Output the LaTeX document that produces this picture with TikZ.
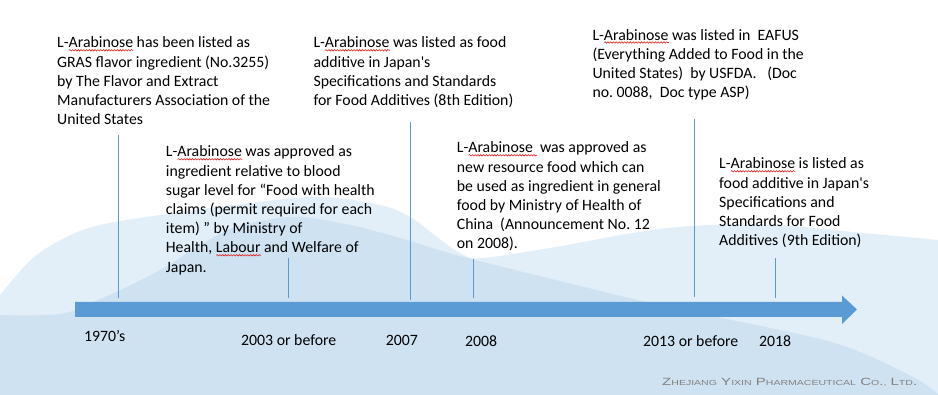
\documentclass[tikz,border=0pt]{standalone}
\usepackage{fontspec}
\setmainfont{Carlito}
\newfontfamily\footfont{Liberation Sans}
\usetikzlibrary{decorations.pathmorphing}
\definecolor{lightwave}{HTML}{E3EFF8}
\definecolor{darkwave}{HTML}{CFE2F2}
\definecolor{tlblue}{HTML}{5B9BD5}
\definecolor{spellred}{HTML}{E0201C}
\definecolor{footgray}{HTML}{808080}
\frenchspacing
\newdimen\spellwd
\newcommand\spell[1]{\leavevmode\setbox0\hbox{#1}\spellwd=\wd0\relax\rlap{\tikz[baseline=0pt]{\draw[spellred,line width=0.6pt,decorate,decoration={snake,amplitude=0.7pt,segment length=2.8pt}] (0pt,-2.4pt) -- (\spellwd,-2.4pt);}}\box0\relax}
\newcommand\fl{\rule{0pt}{13pt}}
\newcommand\sm[1]{{\fontsize{7pt}{8pt}\selectfont #1}}
\tikzset{
  evtext/.style={anchor=north west, inner sep=0pt, align=left, font=\fontsize{15.8pt}{19.2pt}\selectfont},
  datelbl/.style={anchor=base west, inner sep=0pt, font=\fontsize{15.8pt}{19.2pt}\selectfont},
  tickline/.style={draw=tlblue, line width=1pt},
}
\begin{document}
\begin{tikzpicture}[x=1pt,y=-1pt]
\useasboundingbox (0,0) rectangle (938,395);
\fill[white] (0,0) rectangle (938,395);
% background waves
\fill[lightwave] plot[smooth, tension=0.6] coordinates {(0,295) (33,258) (67,237) (100,225) (167,214) (250,203) (320,197) (380,205) (410,217) (437,237) (460,253) (482,258) (550,248) (668,228) (768,225) (863,233) (938,240)} -- (938,395) -- (0,395) -- cycle;
\fill[darkwave] plot[smooth, tension=0.6] coordinates {(0,315) (60,314) (93,302) (133,284) (167,266) (200,245) (233,228) (267,220) (300,217) (350,225) (400,238) (460,256) (568,283) (668,307) (780,330) (847,347) (913,377) (938,394)} -- (938,395) -- (0,395) -- cycle;
% timeline arrow
\fill[tlblue] (75,302) -- (842,302) -- (842,295.5) -- (857,309.5) -- (842,324) -- (842,317) -- (75,317) -- cycle;
% ticks
\coordinate (t1a) at (118,135); \coordinate (t1b) at (118,298);
\coordinate (t2a) at (288.5,258); \coordinate (t2b) at (288.5,298);
\coordinate (t3a) at (410.5,122); \coordinate (t3b) at (410.5,300);
\coordinate (t4a) at (473.5,259); \coordinate (t4b) at (473.5,298);
\coordinate (t5a) at (694.5,119); \coordinate (t5b) at (694.5,297);
\coordinate (t6a) at (775,258); \coordinate (t6b) at (775,298);
\draw[tickline] (t1a) -- (t1b);
\draw[tickline] (t2a) -- (t2b);
\draw[tickline] (t3a) -- (t3b);
\draw[tickline] (t4a) -- (t4b);
\draw[tickline] (t5a) -- (t5b);
\draw[tickline] (t6a) -- (t6b);
% event texts
\node[evtext] (ev1970) at (57,34.7) {\fl L-\spell{Arabinose} has been listed as\\GRAS flavor ingredient (No.3255)\\by The Flavor and Extract\\Manufacturers Association of the\\United States};
\node[evtext] (ev2003) at (165.7,143.7) {\fl L-\spell{Arabinose} was approved as\\ingredient relative to blood\\sugar level for “Food with health\\claims (permit required for each\\item) ” by Ministry of\\Health, \spell{Labour} and Welfare of\\Japan.};
\node[evtext] (ev2007) at (313.3,34.7) {\fl L-\spell{Arabinose} was listed as food\\additive in Japan\textquotesingle s\\Specifications and Standards\\for Food Additives (8th Edition)};
\node[evtext] (ev2008) at (456.7,139.7) {\fl L-\spell{Arabinose\ } was approved as\\new resource food which can\\be used as ingredient in general\\food by Ministry of Health of\\China~ (Announcement No. 12\\on 2008).};
\node[evtext] (ev2013) at (592.3,26.9) {\fl L-\spell{Arabinose} was listed in~ EAFUS\\(Everything Added to Food in the\\United States)~ by USFDA.~~ (Doc\\no. 0088,~ Doc type ASP)};
\node[evtext] (ev2018) at (719,155.7) {\fl L-\spell{Arabinose} is listed as\\food additive in Japan\textquotesingle s\\Specifications and\\Standards for Food\\Additives (9th Edition)};
% dates
\node[datelbl] (d1970) at (84,341.5) {1970’s};
\node[datelbl] (d2003) at (241,345.7) {2003 or before};
\node[datelbl] (d2007) at (385.7,345.9) {2007};
\node[datelbl] (d2008) at (465,346.3) {2008};
\node[datelbl] (d2013) at (643,346.3) {2013 or before};
\node[datelbl] (d2018) at (759,346.3) {2018};
% footer
\node[anchor=base west, inner sep=0pt, text=footgray] (foot) at (662,386) {\resizebox{255pt}{7.3pt}{\footfont\fontsize{10pt}{12pt}\selectfont Z\sm{HEJIANG} Y\sm{IXIN} P\sm{HARMACEUTICAL} C\sm{O}.\sm{,} L\sm{TD}.}};
\end{tikzpicture}
\end{document}
